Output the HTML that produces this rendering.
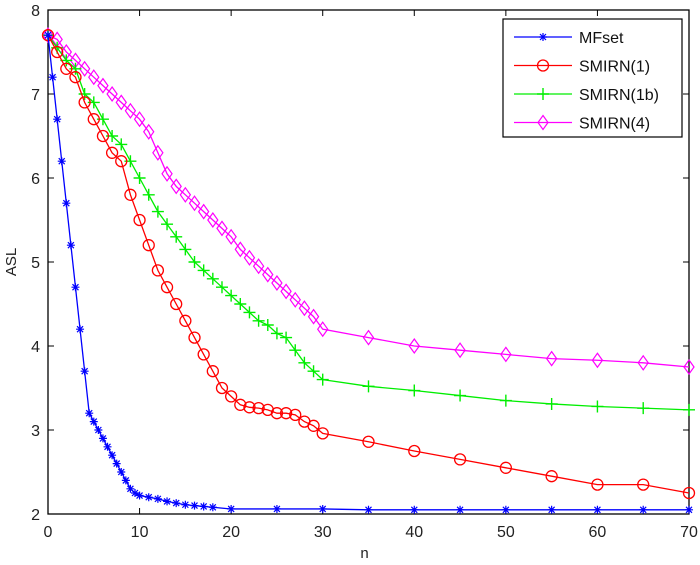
<!DOCTYPE html>
<html><head><meta charset="utf-8"><style>
html,body{margin:0;padding:0;background:#fff;}
svg{display:block;font-family:"Liberation Sans",sans-serif;}
</style></head><body>
<svg id="chart" width="700" height="565" viewBox="0 0 700 565" xmlns="http://www.w3.org/2000/svg"></svg>
<script>
const xTicks=[0,10,20,30,40,50,60,70];
const yTicks=[2,3,4,5,6,7,8];
const nMF=[0,0.5,1,1.5,2,2.5,3,3.5,4,4.5,5,5.5,6,6.5,7,7.5,8,8.5,9,9.5,10,11,12,13,14,15,16,17,18,20,25,30,35,40,45,50,55,60,65,70];
const aslMF=[7.7,7.2,6.7,6.2,5.7,5.2,4.7,4.2,3.7,3.2,3.1,3.0,2.9,2.8,2.7,2.6,2.5,2.4,2.3,2.25,2.22,2.2,2.18,2.15,2.13,2.11,2.1,2.09,2.08,2.06,2.06,2.06,2.05,2.05,2.05,2.05,2.05,2.05,2.05,2.05];
const nS=[0,1,2,3,4,5,6,7,8,9,10,11,12,13,14,15,16,17,18,19,20,21,22,23,24,25,26,27,28,29,30,35,40,45,50,55,60,65,70];
const asl1=[7.7,7.5,7.3,7.2,6.9,6.7,6.5,6.3,6.2,5.8,5.5,5.2,4.9,4.7,4.5,4.3,4.1,3.9,3.7,3.5,3.4,3.3,3.27,3.26,3.24,3.2,3.2,3.18,3.1,3.05,2.96,2.86,2.75,2.65,2.55,2.45,2.35,2.35,2.25];
const asl1b=[7.7,7.55,7.4,7.3,7.0,6.9,6.7,6.5,6.4,6.2,6.0,5.8,5.6,5.45,5.3,5.15,5.0,4.9,4.8,4.7,4.6,4.5,4.4,4.3,4.25,4.15,4.1,3.95,3.8,3.7,3.6,3.52,3.47,3.41,3.35,3.31,3.28,3.26,3.24];
const asl4=[7.7,7.65,7.5,7.4,7.3,7.2,7.1,7.0,6.9,6.8,6.7,6.55,6.3,6.05,5.9,5.8,5.7,5.6,5.5,5.4,5.3,5.15,5.05,4.95,4.85,4.75,4.65,4.55,4.45,4.35,4.2,4.1,4.0,3.95,3.9,3.85,3.83,3.8,3.75];

const L=48,R=689,T=10,B=514;
const X=v=>L+(v-0)/70*(R-L);
const Y=v=>B-(v-2)/6*(B-T);
const svg=document.getElementById('chart');
const NS='http://www.w3.org/2000/svg';
function mk(tag,attrs,parent){const e=document.createElementNS(NS,tag);for(const k in attrs)e.setAttribute(k,attrs[k]);(parent||svg).appendChild(e);return e;}

const axes=mk('g',{});


mk('rect',{x:L,y:T,width:R-L,height:B-T,fill:'#fff',stroke:'#000','stroke-width':1.3},axes);
xTicks.forEach(t=>{
  const x=X(t);
  mk('line',{x1:x,y1:B,x2:x,y2:B-6,stroke:'#000'},axes);
  mk('line',{x1:x,y1:T,x2:x,y2:T+6,stroke:'#000'},axes);
  const tx=mk('text',{x:x,y:B+23,'text-anchor':'middle','font-size':16,fill:'#222'},axes);
  tx.textContent=t;
  
  
});
yTicks.forEach(t=>{
  const y=Y(t);
  mk('line',{x1:L,y1:y,x2:L+6,y2:y,stroke:'#000'},axes);
  mk('line',{x1:R,y1:y,x2:R-6,y2:y,stroke:'#000'},axes);
  const tx=mk('text',{x:L-8,y:y+6,'text-anchor':'end','font-size':16,fill:'#222'},axes);
  tx.textContent=t;
  
  
});
const xt=mk('text',{x:(L+R)/2-4,y:558,'text-anchor':'middle','font-size':15,fill:'#222'});
xt.textContent='n';


const yt=mk('text',{x:0,y:0,'text-anchor':'middle','font-size':15,fill:'#222',transform:'translate(16,'+((T+B)/2)+') rotate(-90)'});
yt.textContent='ASL';



function marker(kind,x,y,c,g){
  if(kind==='star'){
    mk('path',{d:`M${x-4} ${y}H${x+4}M${x} ${y-4}V${y+4}M${x-3} ${y-3}L${x+3} ${y+3}M${x-3} ${y+3}L${x+3} ${y-3}`,stroke:c,'stroke-width':1.2,fill:'none'},g);
  }else if(kind==='circle'){
    mk('circle',{cx:x,cy:y,r:5.5,stroke:c,'stroke-width':1.3,fill:'none'},g);
  }else if(kind==='plus'){
    mk('path',{d:`M${x-6} ${y}H${x+6}M${x} ${y-6}V${y+6}`,stroke:c,'stroke-width':1.4,fill:'none'},g);
  }else{
    mk('path',{d:`M${x} ${y-7}L${x+5} ${y}L${x} ${y+7}L${x-5} ${y}Z`,stroke:c,'stroke-width':1.2,fill:'none'},g);
  }
}
function series(name,xs,ys,c,kind){
  const g=mk('g',{});
  
  
  mk('polyline',{points:xs.map((v,i)=>X(v)+','+Y(ys[i])).join(' '),fill:'none',stroke:c,'stroke-width':1.3},g);
  xs.forEach((v,i)=>marker(kind,X(v),Y(ys[i]),c,g));
}
series('series-smirn-4',nS,asl4,'#ff00ff','diamond');
series('series-smirn-1b',nS,asl1b,'#00ee00','plus');
series('series-smirn-1',nS,asl1,'#ff0000','circle');
series('series-mfset',nMF,aslMF,'#0000ff','star');

const lg=mk('g',{});


mk('rect',{x:503,y:19,width:179,height:118,fill:'#fff',stroke:'#000','stroke-width':1.2},lg);
const entries=[['MFset','#0000ff','star'],['SMIRN(1)','#ff0000','circle'],['SMIRN(1b)','#00ee00','plus'],['SMIRN(4)','#ff00ff','diamond']];
entries.forEach((e,i)=>{
  const y=37+i*28.5;
  const eg=mk('g',{},lg);
  
  
  mk('line',{x1:514,y1:y,x2:572,y2:y,stroke:e[1],'stroke-width':1.3},eg);
  marker(e[2],543,y,e[1],eg);
  const t=mk('text',{x:579,y:y+6,'font-size':16,fill:'#111'},eg);
  t.textContent=e[0];
});
</script>
</body></html>
